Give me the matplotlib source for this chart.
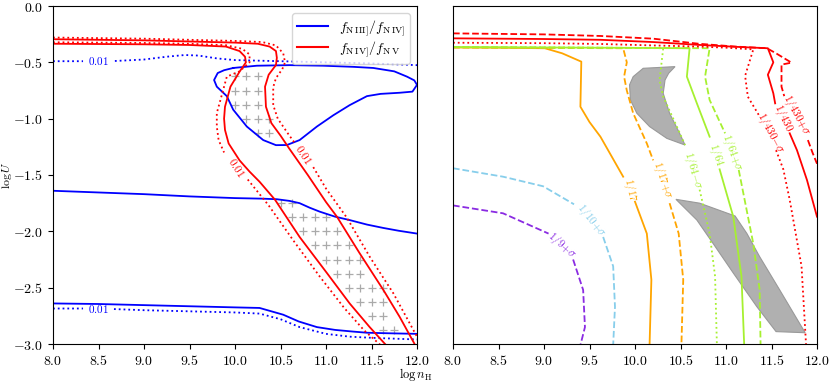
import numpy as np
import matplotlib
matplotlib.use('Agg')
import matplotlib.pyplot as plt
from matplotlib.ticker import FuncFormatter, MultipleLocator

plt.rcParams['mathtext.fontset'] = 'cm'
plt.rcParams['font.family'] = 'serif'
plt.rcParams['font.serif'] = ['DejaVu Serif']

nan = np.nan

# %% left panel: f_NIII]/f_NIV] (blue) and f_NIV]/f_NV (red) contours

blue_top_dot_x = [8.0, 8.33, nan, 8.68, 9.0, 9.25, 9.45, 9.6, 9.8, 10.0, 10.5, 11.0, 11.5, 12.0]
blue_top_dot_y = [-0.49, -0.49, nan, -0.488, -0.475, -0.45, -0.435, -0.44, -0.465, -0.48, -0.49, -0.50, -0.51, -0.525]

blue_loop_x = [9.98, 10.24, 10.6, 10.97, 11.3, 11.52, 11.75, 11.89, 11.97, 12.0, 11.95, 11.81, 11.6, 11.45,
               11.26, 11.08, 10.9, 10.71, 10.57, 10.45, 10.31, 10.13, 9.98, 9.91, 9.80, 9.77, 9.81, 9.88, 9.98]
blue_loop_y = [-0.55, -0.53, -0.525, -0.53, -0.54, -0.55, -0.58, -0.627, -0.66, -0.70, -0.76, -0.77, -0.78, -0.80,
               -0.88, -0.97, -1.07, -1.19, -1.234, -1.235, -1.19, -1.07, -0.92, -0.80, -0.716, -0.657, -0.595, -0.57, -0.55]

blue_mid_x = [8.0, 8.5, 9.0, 9.5, 10.0, 10.3, 10.46, 10.6, 10.71, 10.82, 10.93, 11.1, 11.26, 11.45, 11.63, 11.8, 12.0]
blue_mid_y = [-1.64, -1.655, -1.67, -1.69, -1.705, -1.71, -1.715, -1.73, -1.75, -1.79, -1.825, -1.87, -1.90, -1.94, -1.97, -1.995, -2.02]

blue_low_x = [8.0, 8.5, 9.0, 9.5, 10.0, 10.27, 10.4, 10.53, 10.7, 10.9, 11.1, 11.3, 11.45, 11.7, 12.0]
blue_low_y = [-2.64, -2.645, -2.655, -2.665, -2.675, -2.68, -2.71, -2.74, -2.80, -2.85, -2.875, -2.89, -2.90, -2.905, -2.91]

blue_low_dot_x = [8.0, 8.33, nan, 8.67, 9.0, 9.5, 10.0, 10.27, 10.5, 10.71, 11.0, 11.26, 11.5, 12.0]
blue_low_dot_y = [-2.685, -2.685, nan, -2.69, -2.70, -2.71, -2.72, -2.73, -2.78, -2.85, -2.91, -2.935, -2.945, -2.96]

red_b_x = [8.0, 8.5, 9.0, 9.5, 10.0, 10.25, 10.38, 10.45, 10.46, 10.45, 10.37, 10.33, 10.34, 10.40,
           10.50, 10.60, 10.80, 11.0, 11.12, 11.37, 11.63, 11.81, 11.96, 11.98]
red_b_y = [-0.295, -0.30, -0.305, -0.315, -0.325, -0.335, -0.36, -0.40, -0.46, -0.524, -0.61, -0.716, -0.894, -1.04,
           -1.15, -1.27, -1.50, -1.74, -1.87, -2.195, -2.52, -2.76, -2.98, -3.01]

red_b_dot_x = [8.0, 9.0, 9.5, 10.0, 10.3, 10.45, 10.53, 10.55, 10.52, 10.45, 10.42, 10.42, 10.47, 10.58, 10.66,
               nan, 10.86, 11.0, 11.23, 11.48, 11.74, 12.0]
red_b_dot_y = [-0.28, -0.29, -0.30, -0.31, -0.32, -0.35, -0.42, -0.50, -0.56, -0.64, -0.72, -0.88, -1.0, -1.13, -1.22,
               nan, -1.43, -1.62, -1.88, -2.225, -2.55, -2.935]

red_a_x = [8.0, 9.0, 9.5, 9.9, 10.05, 10.11, 10.12, 10.05, 9.95, 9.89, 9.88, 9.89, 9.93, 10.05, 10.16, 10.27,
           10.44, 10.71, 11.01, 11.26, 11.48, 11.66]
red_a_y = [-0.335, -0.34, -0.346, -0.36, -0.40, -0.45, -0.50, -0.583, -0.716, -0.894, -1.0, -1.10, -1.22, -1.37,
           -1.47, -1.56, -1.72, -2.05, -2.37, -2.64, -2.85, -3.01]

red_a_dot_x = [8.0, 9.0, 9.5, 9.9, 10.08, 10.16, 10.16, 10.05, 9.91, 9.84, 9.80, 9.80, 9.82, 9.88,
               nan, 10.14, 10.37, 10.64, 10.93, 11.2, 11.42, 11.6]
red_a_dot_y = [-0.322, -0.328, -0.335, -0.348, -0.38, -0.43, -0.50, -0.58, -0.627, -0.834, -0.95, -1.07, -1.19, -1.30,
               nan, -1.54, -1.77, -2.08, -2.40, -2.68, -2.88, -3.01]

grid_x = [10.0, 10.125, 10.25,
          10.0, 10.125, 10.25,
          10.0, 10.125, 10.25,
          10.125, 10.25, 10.375,
          10.25, 10.375,
          10.5, 10.625,
          10.625, 10.75, 10.875, 11.0,
          10.75, 10.875, 11.0, 11.125,
          10.875, 11.0, 11.125, 11.25,
          11.0, 11.125, 11.25, 11.375,
          11.125, 11.25, 11.375,
          11.25, 11.375, 11.5, 11.625,
          11.375, 11.5, 11.625,
          11.5, 11.625,
          11.625, 11.75]
grid_y = [-0.625] * 3 + [-0.75] * 3 + [-0.875] * 3 + [-1.0] * 3 + [-1.125] * 2 + \
         [-1.75] * 2 + [-1.875] * 4 + [-2.0] * 4 + [-2.125] * 4 + [-2.25] * 4 + [-2.375] * 3 + \
         [-2.5] * 4 + [-2.625] * 3 + [-2.75] * 2 + [-2.875] * 2

# %% right panel: ratio contours and gray regions

r_dash_x = [8.0, 9.0, 9.62, 10.2, 10.7, 11.1, 11.45, 11.55, 11.72, 11.61, 11.61, 11.64, nan, 11.90, 11.95, 12.0]
r_dash_y = [-0.243, -0.252, -0.266, -0.29, -0.335, -0.36, -0.375, -0.42, -0.503, -0.52, -0.716, -0.80, nan, -1.19, -1.30, -1.40]

r_sol_x = [8.0, 9.0, 9.62, 10.2, 10.7, 11.1, 11.46, 11.52, 11.46, 11.52, 11.54, nan, 11.70, 11.78, 11.89, 12.0]
r_sol_y = [-0.287, -0.293, -0.30, -0.32, -0.345, -0.362, -0.375, -0.50, -0.61, -0.775, -0.864, nan, -1.13, -1.28, -1.545, -1.87]

r_dot_x = [8.0, 9.0, 9.62, 10.2, 10.7, 11.0, 11.30, 11.21, 11.24, 11.36, nan, 11.55, 11.63, 11.70, 11.83, 11.88]
r_dot_y = [-0.326, -0.33, -0.337, -0.35, -0.36, -0.37, -0.385, -0.62, -0.805, -0.967, nan, -1.28, -1.45, -1.72, -2.31, -3.01]

g_sol_x = [8.0, 9.0, 10.0, 10.60, 10.57, 10.68, 10.82, nan, 10.93, 11.08, 11.17, 11.20]
g_sol_y = [-0.365, -0.368, -0.372, -0.375, -0.627, -0.864, -1.16, nan, -1.45, -1.87, -2.40, -3.01]

g_dash_x = [8.0, 9.0, 10.0, 10.82, 10.77, 10.82, 10.99, nan, 11.14, 11.30, 11.37, 11.38]
g_dash_y = [-0.365, -0.368, -0.372, -0.375, -0.627, -0.834, -1.13, nan, -1.455, -2.11, -2.52, -3.01]

g_dot_x = [8.0, 9.0, 10.0, 10.31, 10.27, 10.31, 10.46, 10.55, nan, 10.71, 10.82, 10.88, 10.90]
g_dot_y = [-0.365, -0.368, -0.372, -0.375, -0.657, -0.805, -1.07, -1.234, nan, -1.63, -2.02, -2.40, -3.01]

o_sol_x = [8.0, 8.5, 9.01, 9.2, 9.41, 9.40, 9.5, 9.62, 9.87, nan, 10.0, 10.13, 10.18, 10.16]
o_sol_y = [-0.368, -0.37, -0.375, -0.42, -0.494, -0.894, -1.03, -1.16, -1.515, nan, -1.737, -2.02, -2.43, -3.01]

o_dash_x = [8.0, 9.0, 9.87, 9.91, 9.88, 9.91, 9.98, 10.13, 10.20, nan, 10.38, 10.48, 10.53, 10.51]
o_dash_y = [-0.368, -0.372, -0.375, -0.50, -0.627, -0.75, -0.952, -1.22, -1.37, nan, -1.75, -2.02, -2.43, -3.01]

sky_x = [8.0, 8.55, 8.99, 9.33, nan, 9.65, 9.76, 9.78, 9.76]
sky_y = [-1.44, -1.515, -1.60, -1.76, nan, -2.05, -2.31, -2.67, -3.01]

pur_x = [8.0, 8.55, 9.05, nan, 9.32, 9.43, 9.45, 9.40]
pur_y = [-1.77, -1.84, -2.02, nan, -2.25, -2.52, -2.85, -3.01]

patch1_x = [10.44, 10.09, 9.98, 9.94, 9.95, 10.02, 10.16, 10.35, 10.55, 10.49, 10.38, 10.31, 10.33, 10.37]
patch1_y = [-0.538, -0.553, -0.627, -0.70, -0.834, -0.952, -1.07, -1.175, -1.234, -1.13, -0.952, -0.775, -0.657, -0.597]

patch2_x = [10.45, 10.71, 11.10, 11.23, 11.37, 11.59, 11.87, 11.55, 11.34, 11.08, 10.86, 10.68]
patch2_y = [-1.716, -1.75, -1.864, -2.02, -2.225, -2.52, -2.90, -2.89, -2.67, -2.37, -2.11, -1.90]

lab_text = [r'$1/430{+}\sigma$', r'$1/430$', r'$1/430{-}\sigma$', r'$1/64{+}\sigma$', r'$1/64$',
            r'$1/64{-}\sigma$', r'$1/17{+}\sigma$', r'$1/17$', r'$1/10{+}\sigma$', r'$1/9{+}\sigma$']
lab_x = [11.77, 11.63, 11.49, 11.07, 10.89, 10.64, 10.30, 9.95, 9.52, 9.20]
lab_y = [-0.97, -0.99, -1.13, -1.30, -1.32, -1.46, -1.55, -1.63, -1.90, -2.12]
lab_rot = [-62, -65, -62, -70, -72, -74, -72, -78, -52, -42]

RED = '#ff0000'
BLUE = '#0000ff'
GREEN = '#a6f030'
ORANGE = '#ffa500'
SKY = '#87ceeb'
PURPLE = '#8a2be2'
lab_col = [RED, RED, RED, GREEN, GREEN, GREEN, ORANGE, ORANGE, SKY, PURPLE]

fig = plt.figure(figsize=(8.31, 3.82), dpi=100)
ax1 = fig.add_axes([53 / 831, 38 / 382, 364 / 831, 338 / 382])
ax2 = fig.add_axes([453 / 831, 38 / 382, 364 / 831, 338 / 382])

lw = 1.3
ax1.plot(grid_x, grid_y, '+', color='#aaaaaa', ms=6, mew=0.9, zorder=1)
ax1.plot(blue_top_dot_x, blue_top_dot_y, ':', color=BLUE, lw=lw)
ax1.plot(blue_loop_x, blue_loop_y, '-', color=BLUE, lw=lw)
ax1.plot(blue_mid_x, blue_mid_y, '-', color=BLUE, lw=lw)
ax1.plot(blue_low_x, blue_low_y, '-', color=BLUE, lw=lw)
ax1.plot(blue_low_dot_x, blue_low_dot_y, ':', color=BLUE, lw=lw)
ax1.plot(red_b_x, red_b_y, '-', color=RED, lw=lw)
ax1.plot(red_b_dot_x, red_b_dot_y, ':', color=RED, lw=lw)
ax1.plot(red_a_x, red_a_y, '-', color=RED, lw=lw)
ax1.plot(red_a_dot_x, red_a_dot_y, ':', color=RED, lw=lw)
ax1.text(8.5, -0.49, r'$0.01$', color=BLUE, fontsize=8, ha='center', va='center')
ax1.text(8.5, -2.69, r'$0.01$', color=BLUE, fontsize=8, ha='center', va='center')
ax1.text(10.02, -1.43, r'$0.01$', color=RED, fontsize=8, ha='center', va='center', rotation=-57)
ax1.text(10.75, -1.32, r'$0.01$', color=RED, fontsize=8, ha='center', va='center', rotation=-57)

h1, = ax1.plot([], [], '-', color=BLUE, lw=1.5, label=r'$f_{\rm N\,III]}/f_{\rm N\,IV]}$')
h2, = ax1.plot([], [], '-', color=RED, lw=1.5, label=r'$f_{\rm N\,IV]}/f_{\rm N\,V}$')
ax1.legend(handles=[h1, h2], loc='upper right', fontsize=10, handlelength=2.2,
           labelspacing=0.1, borderpad=0.35, borderaxespad=0.5, handletextpad=0.8)

ax2.fill(patch1_x, patch1_y, facecolor='#b0b0b0', edgecolor='#999999', lw=0.8)
ax2.fill(patch2_x, patch2_y, facecolor='#b0b0b0', edgecolor='#999999', lw=0.8)
ax2.plot(pur_x, pur_y, '--', color=PURPLE, lw=lw)
ax2.plot(sky_x, sky_y, '--', color=SKY, lw=lw)
ax2.plot(o_sol_x, o_sol_y, '-', color=ORANGE, lw=lw)
ax2.plot(o_dash_x, o_dash_y, '--', color=ORANGE, lw=lw)
ax2.plot(g_dot_x, g_dot_y, ':', color=GREEN, lw=lw)
ax2.plot(g_sol_x, g_sol_y, '-', color=GREEN, lw=lw)
ax2.plot(g_dash_x, g_dash_y, '--', color=GREEN, lw=lw)
ax2.plot(r_dot_x, r_dot_y, ':', color=RED, lw=lw)
ax2.plot(r_sol_x, r_sol_y, '-', color=RED, lw=lw)
ax2.plot(r_dash_x, r_dash_y, '--', color=RED, lw=lw)
for t, x, y, r, c in zip(lab_text, lab_x, lab_y, lab_rot, lab_col):
    ax2.text(x, y, t, color=c, fontsize=8, ha='center', va='center', rotation=r)

fmt = FuncFormatter(lambda v, p: r'$%.1f$' % v)
for ax in (ax1, ax2):
    ax.set_xlim(8.0, 12.0)
    ax.set_ylim(-3.0, 0.0)
    ax.xaxis.set_major_locator(MultipleLocator(0.5))
    ax.yaxis.set_major_locator(MultipleLocator(0.5))
    ax.xaxis.set_major_formatter(fmt)
    ax.yaxis.set_major_formatter(fmt)
    ax.tick_params(labelsize=10)
ax2.tick_params(left=False, labelleft=False)

ax1.set_ylabel(r'$\log U$', fontsize=8.5)
ax1.yaxis.set_label_coords(-0.108, 0.5)
fig.text(0.5, 0.019, r'$\log n_{\rm H}$', fontsize=9, ha='center', va='center')

fig.savefig('out.png', dpi=100)
